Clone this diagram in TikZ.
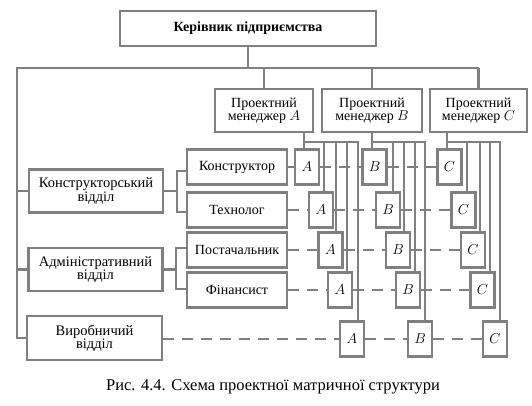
\documentclass[tikz,border=0pt]{standalone}
\usepackage{fontspec}
\setmainfont{Liberation Serif}
\definecolor{lg}{RGB}{128,128,128}
\pgfdeclarelayer{bg}
\pgfsetlayers{bg,main}
\begin{document}
\begin{tikzpicture}[x=1pt,y=-1pt,
  txt/.style={font=\fontsize{14}{13.5}\selectfont},
  box/.style={txt, draw=lg, line width=2.6pt, fill=white, inner sep=0pt, align=center},
  sbox/.style={box, minimum width=24, minimum height=35},
  jbox/.style={box, minimum width=100, minimum height=35},
  dbox/.style={box, minimum width=134, minimum height=43},
  mbox/.style={box, minimum height=43},
  ln/.style={draw=lg, line width=2.5pt},
  dsh/.style={draw=lg, line width=2.5pt, dash pattern=on 11pt off 8pt},
]
\useasboundingbox (0,0) rectangle (532,406);

% top
\node[box, minimum width=256, minimum height=35, font=\fontsize{14}{13.5}\selectfont\bfseries] (top) at (248,28.5) {Керівник підприємства};

% managers
\node[mbox, minimum width=98]  (mA) at (264,110.5) {Проектний\\менеджер $A$};
\node[mbox, minimum width=100] (mB) at (372,110.5) {Проектний\\менеджер $B$};
\node[mbox, minimum width=97]  (mC) at (478.5,110.5) {Проектний\\менеджер $C$};

% departments
\node[dbox, font=\fontsize{14.5}{13.5}\selectfont] (dK) at (96,191)   {Конструкторський\\відділ};
\node[dbox, font=\fontsize{14.5}{13.5}\selectfont] (dA) at (95.5,269.5) {Адміністративний\\відділ};
\node[dbox, minimum width=135, minimum height=44, font=\fontsize{14.5}{13.5}\selectfont] (dV) at (94.5,338) {Виробничий\\відділ};

% jobs
\node[jbox] (jK) at (237,167) {Конструктор};
\node[jbox] (jT) at (237,210) {Технолог};
\node[jbox] (jP) at (237,250) {Постачальник};
\node[jbox] (jF) at (237,290) {Фінансист};

% matrix cells
\node[sbox] (A1) at (307,167)   {$A$};
\node[sbox] (A2) at (321,210)   {$A$};
\node[sbox] (A3) at (330.5,250) {$A$};
\node[sbox] (A4) at (340,290)   {$A$};
\node[sbox] (A5) at (352,339)   {$A$};
\node[sbox] (B1) at (374.5,167) {$B$};
\node[sbox] (B2) at (388,210)   {$B$};
\node[sbox] (B3) at (398,250)   {$B$};
\node[sbox] (B4) at (408,290)   {$B$};
\node[sbox] (B5) at (420,339)   {$B$};
\node[sbox] (C1) at (449.5,167) {$C$};
\node[sbox] (C2) at (463.5,210) {$C$};
\node[sbox] (C3) at (473,250)   {$C$};
\node[sbox] (C4) at (482.5,290) {$C$};
\node[sbox] (C5) at (495,339)   {$C$};

% caption
\node[font=\fontsize{16.5}{18}\selectfont] (cap) at (273,387) {Рис. 4.4. Схема проектної матричної структури};

% coordinates
\coordinate (L) at (17,68);
\coordinate (kt) at (177,171);
\coordinate (kb) at (177,212);
\coordinate (at) at (176,248);
\coordinate (ab) at (176,289);
\coordinate (a0) at (304,142);
\coordinate (a1) at (324,142);
\coordinate (a2) at (336,142);
\coordinate (a3) at (347,142);
\coordinate (a4) at (358,142);
\coordinate (b0) at (372,142);
\coordinate (b1) at (393,142);
\coordinate (b2) at (404,142);
\coordinate (b3) at (415,142);
\coordinate (b4) at (425,142);
\coordinate (c0) at (447,142);
\coordinate (c1) at (467,142);
\coordinate (c2) at (480,142);
\coordinate (c3) at (490,142);
\coordinate (c4) at (500,142);

\begin{pgfonlayer}{bg}
% dashed rows
\draw[dsh] (jK.east) -- (A1.west);
\draw[dsh] (A1.east) -- (B1.west);
\draw[dsh] (B1.east) -- (C1.west);
\draw[dsh] (jT.east) -- (A2.west);
\draw[dsh] (A2.east) -- (B2.west);
\draw[dsh] (B2.east) -- (C2.west);
\draw[dsh] (jP.east) -- (A3.west);
\draw[dsh] (A3.east) -- (B3.west);
\draw[dsh] (B3.east) -- (C3.west);
\draw[dsh] (jF.east) -- (A4.west);
\draw[dsh] (A4.east) -- (B4.west);
\draw[dsh] (B4.east) -- (C4.west);
\draw[dsh] (dV.east |- A5.west) -- (A5.west);
\draw[dsh] (A5.east) -- (B5.west);
\draw[dsh] (B5.east) -- (C5.west);

% hierarchy
\draw[ln] (top.south) -- (top.south |- L);
\draw[ln] (L -| mC.north) -- (L) -- (L |- dV.west) -- (dV.west);
\draw[ln] (mA.north |- L) -- (mA.north);
\draw[ln] (mB.north |- L) -- (mB.north);
\draw[ln] (mC.north |- L) -- (mC.north);
\draw[ln] (L |- dK.west) -- (dK.west);
\draw[ln] (L |- dA.west) -- (dA.west);

% brackets
\draw[ln] (dK.east) -- (dK.east -| kt);
\draw[ln] (jK.west |- kt) -- (kt) -- (kb) -- (jT.west |- kb);
\draw[ln] (dA.east) -- (dA.east -| at);
\draw[ln] (jP.west |- at) -- (at) -- (ab) -- (jF.west |- ab);

% project A
\draw[ln] (mA.south -| a0) -- (a0) -- (a4) -- (a4 |- A5.north);
\draw[ln] (a0) -- (a0 |- A1.north);
\draw[ln] (a1) -- (a1 |- A2.north);
\draw[ln] (a2) -- (a2 |- A3.north);
\draw[ln] (a3) -- (a3 |- A4.north);
% project B
\draw[ln] (mB.south -| b0) -- (b0) -- (b4) -- (b4 |- B5.north);
\draw[ln] (b0) -- (b0 |- B1.north);
\draw[ln] (b1) -- (b1 |- B2.north);
\draw[ln] (b2) -- (b2 |- B3.north);
\draw[ln] (b3) -- (b3 |- B4.north);
% project C
\draw[ln] (mC.south -| c0) -- (c0) -- (c4) -- (c4 |- C5.north);
\draw[ln] (c0) -- (c0 |- C1.north);
\draw[ln] (c1) -- (c1 |- C2.north);
\draw[ln] (c2) -- (c2 |- C3.north);
\draw[ln] (c3) -- (c3 |- C4.north);
\end{pgfonlayer}
\end{tikzpicture}
\end{document}
